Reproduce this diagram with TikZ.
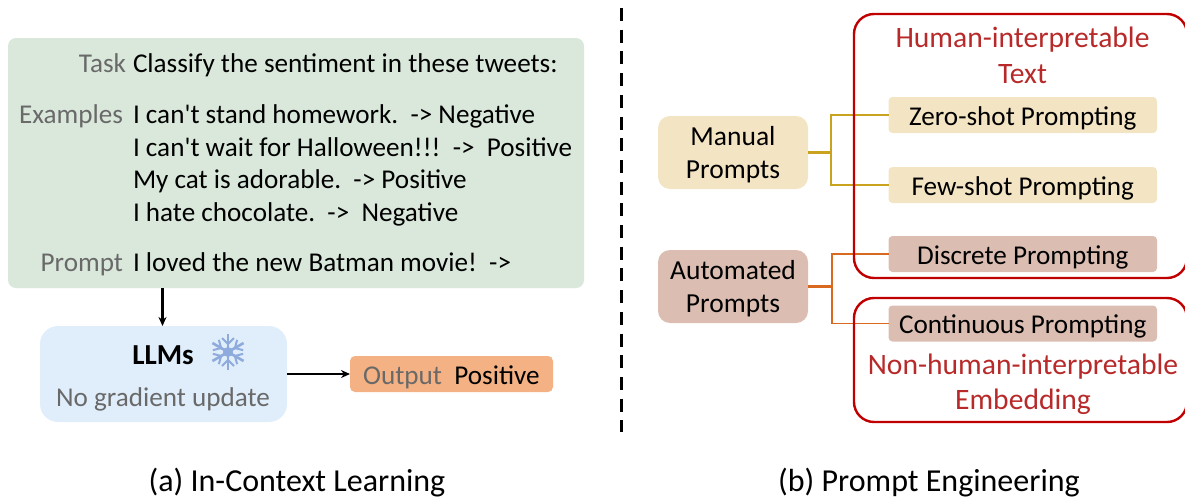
\documentclass[tikz,border=0pt]{standalone}
\usepackage{fontspec}
\setmainfont{Carlito}[Ligatures=TeXOff]
\usetikzlibrary{arrows.meta}
\definecolor{greenbox}{HTML}{D9E8DB}
\definecolor{bluebox}{HTML}{E0EEFB}
\definecolor{orangebox}{HTML}{F4B183}
\definecolor{manualbox}{HTML}{F3E4C3}
\definecolor{autobox}{HTML}{DBBDB2}
\definecolor{manualline}{HTML}{C9A21E}
\definecolor{autoline}{HTML}{D9691E}
\definecolor{redline}{HTML}{C00000}
\definecolor{redtext}{HTML}{B82A2A}
\definecolor{greytext}{HTML}{696969}
\definecolor{flake}{HTML}{8FAADC}
\tikzset{
  x=1pt,y=-1pt,
  txt/.style={inner sep=0pt,outer sep=0pt,font=\fontsize{27.15}{33}\selectfont,anchor=base},
  lefttxt/.style={txt,anchor=base west},
  lab/.style={txt,anchor=base east,text=greytext},
  box/.style={inner sep=0pt,outer sep=0pt,rounded corners=#1},
  box/.default=8pt,
  subbox/.style={box=4pt,minimum width=268.5pt,minimum height=36pt},
  topbox/.style={box=12pt,minimum width=150pt,minimum height=73pt},
  toptxt/.style={inner sep=0pt,outer sep=0pt,align=center,font=\fontsize{27.5}{33}\selectfont},
  redbox/.style={draw=redline,line width=2.4pt,rounded corners=20pt},
  redlabel/.style={txt,text=redtext,font=\fontsize{29.6}{33}\selectfont},
  captxt/.style={txt,font=\fontsize{32}{36}\selectfont},
  conn/.style={line width=1.6pt},
  stem/.style={line width=2.3pt},
  arrow/.style={line width=2.2pt,-{Stealth[length=9pt,width=8pt]}},
}
\begin{document}
\begin{tikzpicture}
\path[use as bounding box] (0,0) rectangle (1185,498);
% left
\node[box=8pt,fill=greenbox,minimum width=576pt,minimum height=250pt] (ctx) at (296,163) {};
\node[lab] (t1) at (126,72) {Task};
\node[lefttxt] (t2) at (133,72) {Classify the sentiment in these tweets:};
\node[lab] (t3) at (123,123) {Examples};
\node[lefttxt] (t4) at (133,123) {I can't stand homework.\ \ -> Negative};
\node[lefttxt] (t5) at (133,156) {I can't wait for Halloween!!!\ \ ->\ \ Positive};
\node[lefttxt] (t6) at (133,188) {My cat is adorable.\ \ -> Positive};
\node[lefttxt] (t7) at (133,221) {I hate chocolate.\ \ ->\ \ Negative};
\node[lab] (t8) at (123,271) {Prompt};
\node[lefttxt] (t9) at (133,271) {I loved the new Batman movie!\ \ ->};
\node[box=18pt,fill=bluebox,minimum width=247pt,minimum height=96pt] (llm) at (163.5,374) {};
\node[txt,font=\fontsize{29}{33}\selectfont\bfseries] (llmt) at (163,364) {LLMs};
\node[txt,text=greytext] (nog) at (163,406) {No gradient update};
\begin{scope}[shift={(228,352)},flake,line width=2.6pt]
  \foreach \a in {30,90,150,210,270,330}{
    \begin{scope}[rotate=\a]
      \draw (0,0) -- (18,0);
      \draw[line width=2pt] (8,0) -- (14,-6) (8,0) -- (14,6);
    \end{scope}
  }
  \fill (0,0) circle (5);
\end{scope}
\node[box=5pt,fill=orangebox,minimum width=203pt,minimum height=36pt] (out) at (451.5,374) {};
\node[txt,text=greytext] (outa) at (402.5,384) {Output};
\node[txt] (outb) at (497,384) {Positive};
\draw[arrow] (ctx.south -| llm.center) ++(-1,0) -- ++(0,38);
\draw[arrow] (llm.east) -- (out.west);
% divider
\coordinate (d1) at (621,8);
\coordinate (d2) at (621,432);
\draw[line width=3pt,dash pattern=on 13pt off 8.7pt] (d1) -- (d2);
% right
\node[topbox,fill=manualbox] (man) at (733,152.5) {};
\node[topbox,fill=autobox] (aut) at (733,286.5) {};
\node[toptxt] (mant) at (733,155) {Manual\\Prompts};
\node[toptxt] (autt) at (733,289) {Automated\\Prompts};
\node[subbox,fill=manualbox] (zero) at (1022.75,115) {};
\node[subbox,fill=manualbox] (few) at (1022.75,185) {};
\node[subbox,fill=autobox] (disc) at (1022.75,254) {};
\node[subbox,fill=autobox] (cont) at (1022.75,323.5) {};
\node[txt] (zerot) at (1022.75,125) {Zero-shot Prompting};
\node[txt] (fewt) at (1022.75,195) {Few-shot Prompting};
\node[txt] (disct) at (1022.75,264) {Discrete Prompting};
\node[txt] (contt) at (1022.75,333.5) {Continuous Prompting};
\coordinate (mj) at (831,152.5);
\coordinate (aj) at (832,286.5);
\draw[stem,manualline] (man.east) -- (mj);
\draw[conn,manualline] (zero.west) -| (mj) |- (few.west);
\draw[stem,autoline] (aut.east) -- (aj);
\draw[conn,autoline] (disc.west) -| (aj) |- (cont.west);
\draw[redbox] (854,14) rectangle (1187,278);
\draw[redbox] (854,298) rectangle (1187,422);
\node[redlabel] (h1) at (1022.5,47) {Human-interpretable};
\node[redlabel] (h2) at (1022.5,83) {Text};
\node[redlabel] (n1) at (1023,374) {Non-human-interpretable};
\node[redlabel] (n2) at (1023,409) {Embedding};
% captions
\node[captxt] (ca) at (297,491) {(a) In-Context Learning};
\node[captxt] (cb) at (929,491) {(b) Prompt Engineering};
\end{tikzpicture}
\end{document}
